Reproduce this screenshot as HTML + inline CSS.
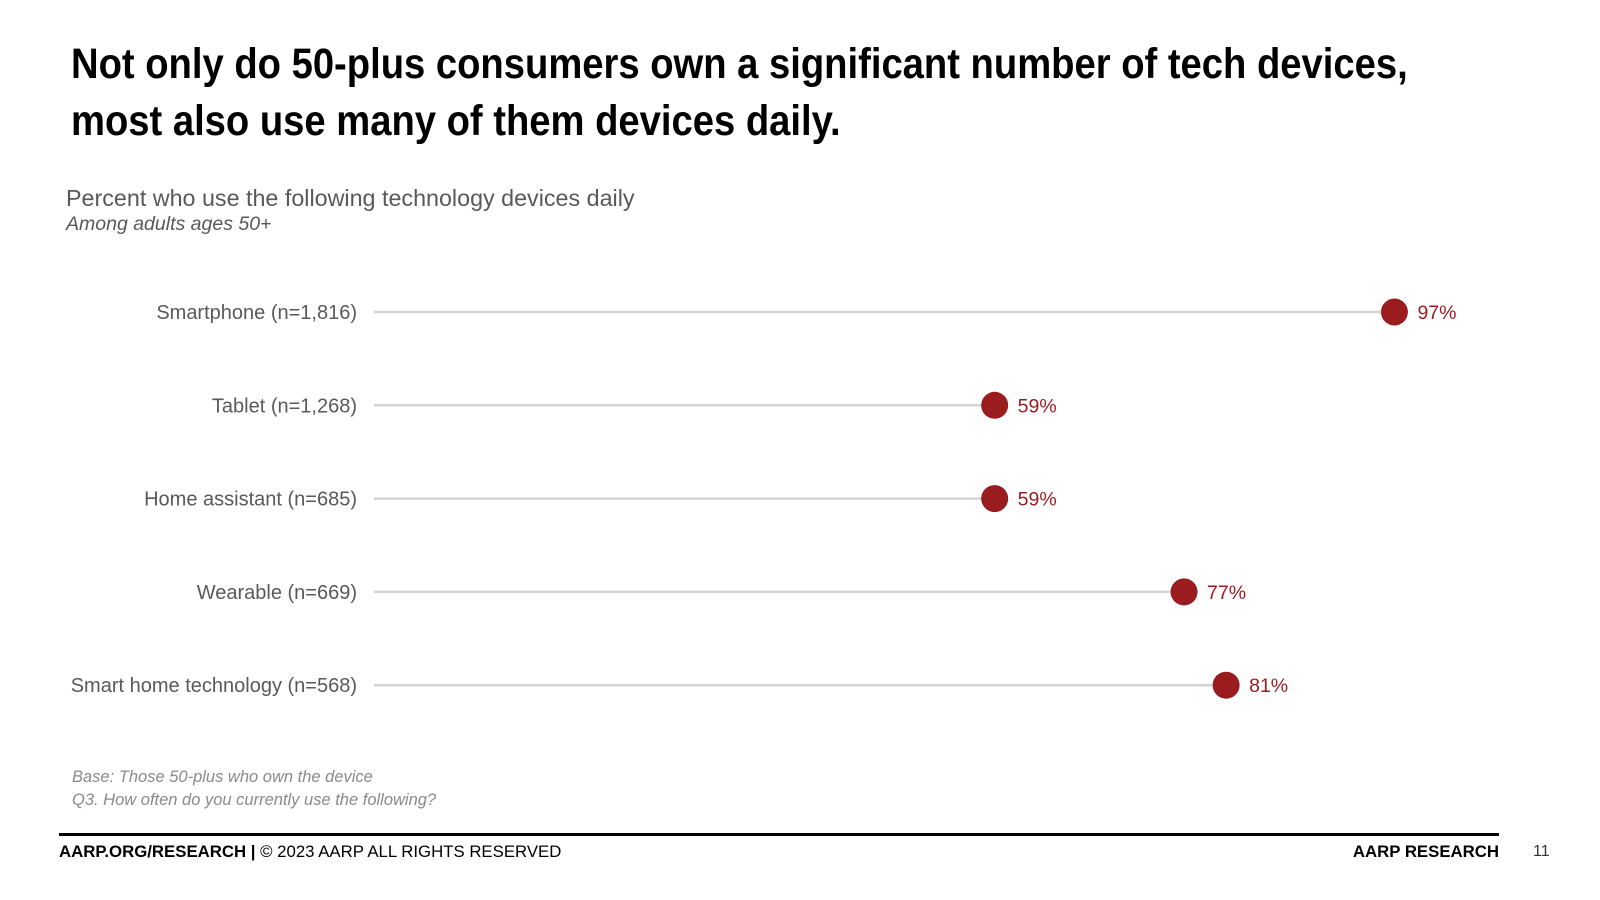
<!DOCTYPE html>
<html><head><meta charset="utf-8"><style>
body{margin:0;width:1600px;height:900px;background:#fff;position:relative;overflow:hidden;font-family:"Liberation Sans",sans-serif}
.t{position:absolute;white-space:nowrap}
</style></head><body>
<div class="t" style="left:71px;top:36px;font-weight:bold;font-size:43px;line-height:57px;color:#000;transform:scaleX(0.888);transform-origin:0 0">Not only do 50-plus consumers own a significant number of tech devices,<br>most also use many of them devices daily.</div>
<div class="t" style="left:66px;top:185px;font-size:23.3px;color:#595959">Percent who use the following technology devices daily</div>
<div class="t" style="left:66px;top:213px;font-size:19.5px;font-style:italic;color:#595959">Among adults ages 50+</div>
<svg id="chart" width="1600" height="900" style="position:absolute;left:0;top:0"></svg>
<div class="t" style="left:72px;top:768px;font-size:16.5px;font-style:italic;color:#8a8a8a">Base: Those 50-plus who own the device</div>
<div class="t" style="left:72px;top:791px;font-size:16.5px;font-style:italic;color:#8a8a8a">Q3. How often do you currently use the following?</div>
<div style="position:absolute;left:59px;top:833px;width:1440px;height:3px;background:#000"></div>
<div class="t" style="left:59px;top:842px;font-size:16.8px;color:#000"><b>AARP.ORG/RESEARCH |</b> © 2023 AARP ALL RIGHTS RESERVED</div>
<div class="t" style="right:101px;top:842px;font-size:16.8px;font-weight:bold;color:#000">AARP RESEARCH</div>
<div class="t" style="left:1533px;top:843px;font-size:16px;color:#333">11</div>
<script>
const categories=["Smartphone (n=1,816)","Tablet (n=1,268)","Home assistant (n=685)","Wearable (n=669)","Smart home technology (n=568)"];
const values=[97,59,59,77,81];
const svg=document.getElementById('chart');
const NS='http://www.w3.org/2000/svg';
const x0=374,x1=1426,yTop=312,yStep=93.3;
const xs=v=>x0+(x1-x0)*v/100;
const ys=i=>yTop+i*yStep;
function mk(t,a){const e=document.createElementNS(NS,t);for(const k in a)e.setAttribute(k,a[k]);svg.appendChild(e);return e;}
categories.forEach((c,i)=>{
  const y=ys(i);
  const lab=mk('text',{x:357,y:y+7,'text-anchor':'end','font-size':20,fill:'#595959','font-family':'Liberation Sans, sans-serif'});
  lab.textContent=c;
  
  
  const ln=mk('line',{x1:x0,x2:xs(values[i]),y1:y,y2:y,stroke:'#d4d4d4','stroke-width':2.5});
  
  
  const d=mk('circle',{cx:xs(values[i]),cy:y,r:13.5,fill:'#9b1c1f'});
  
  
  const v=mk('text',{x:xs(values[i])+23,y:y+7,'font-size':19.5,fill:'#9b1c1f','font-family':'Liberation Sans, sans-serif'});
  v.textContent=values[i]+'%';
  
  
});
</script>
</body></html>
